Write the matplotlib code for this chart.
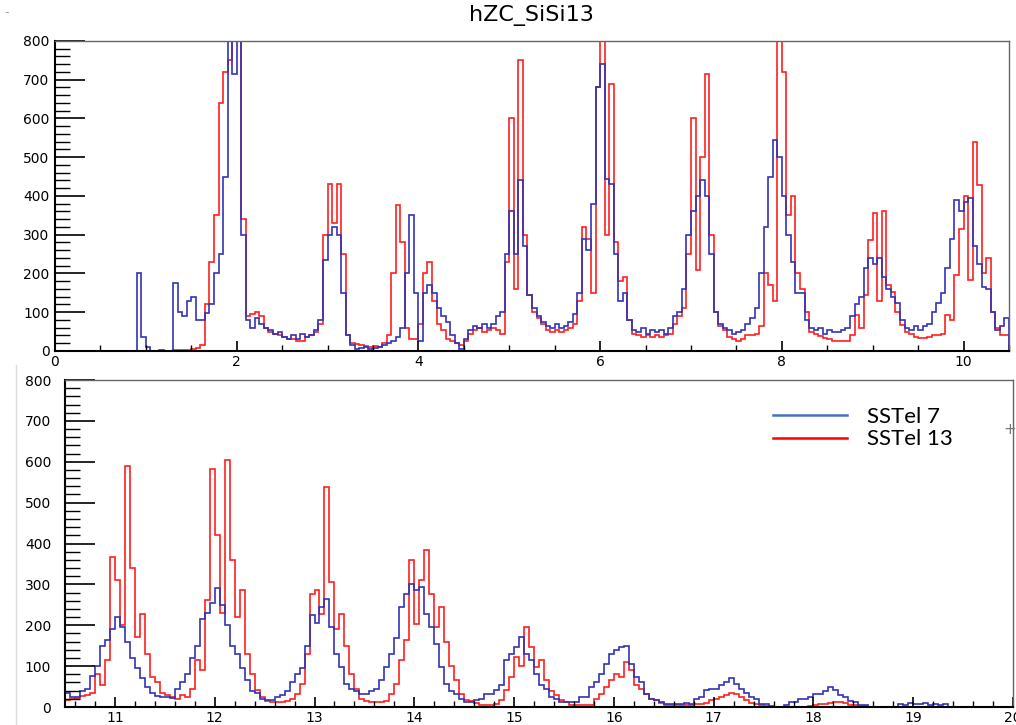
import numpy as np
import matplotlib
matplotlib.use('Agg')
from matplotlib import pyplot as plt
from matplotlib.lines import Line2D
from matplotlib.ticker import MultipleLocator

# bins are 0.05 wide, top panel starts at 0, bottom panel at 10.5
bin_w = 0.05
top_start = 0.0
top_end = 10.5
bot_start = 10.5
bot_end = 20.0

title = 'hZC_SiSi13'
labels = ['SSTel 7', 'SSTel 13']

# top panel, one row = 0.5 units
top_blue = [
    0, 0, 0, 0, 0, 0, 0, 0, 0, 0,
    0, 0, 0, 0, 0, 0, 0, 0, 200, 35,
    10, 0, 0, 3, 0, 0, 176, 100, 90, 130,
    140, 80, 80, 97, 120, 200, 250, 450, 1000, 715,
    1000, 300, 80, 60, 85, 70, 60, 55, 45, 50,
    35, 30, 40, 30, 45, 35, 40, 55, 80, 235,
    300, 320, 300, 150, 40, 15, 5, 8, 10, 5,
    8, 10, 15, 20, 25, 35, 60, 200, 350, 150,
    25, 150, 170, 150, 110, 90, 75, 40, 20, 5,
    30, 55, 65, 60, 70, 60, 70, 90, 100, 250,
    360, 250, 440, 270, 145, 110, 90, 75, 65, 60,
    70, 60, 65, 75, 95, 150, 290, 260, 380, 680,
    740, 445, 430, 250, 130, 150, 80, 55, 50, 60,
    45, 55, 50, 55, 45, 60, 90, 100, 160, 300,
    360, 400, 440, 400, 250, 100, 70, 60, 55, 45,
    50, 55, 70, 85, 110, 200, 320, 450, 545, 500,
    400, 300, 230, 150, 150, 80, 60, 55, 60, 45,
    55, 50, 50, 55, 58, 90, 120, 140, 215, 240,
    225, 240, 190, 160, 140, 125, 80, 60, 55, 65,
    55, 65, 70, 100, 125, 150, 213, 290, 390, 360,
    385, 394, 270, 225, 165, 160, 100, 55, 65, 85,
]
top_red = [
    0, 0, 0, 0, 0, 0, 0, 0, 0, 0,
    0, 0, 0, 0, 0, 0, 0, 0, 0, 0,
    0, 0, 0, 0, 0, 0, 2, 2, 3, 3,
    5, 8, 15, 120, 230, 350, 640, 720, 750, 1000,
    1000, 340, 90, 95, 100, 90, 60, 50, 45, 40,
    35, 30, 30, 25, 25, 35, 40, 50, 70, 300,
    430, 330, 430, 250, 40, 20, 18, 15, 12, 10,
    12, 10, 20, 40, 200, 377, 280, 60, 30, 30,
    70, 200, 230, 130, 70, 55, 30, 25, 20, 15,
    25, 45, 55, 60, 50, 55, 60, 55, 45, 230,
    600, 160, 750, 300, 145, 100, 85, 70, 55, 50,
    55, 50, 55, 60, 70, 130, 320, 290, 150, 680,
    810, 300, 690, 280, 180, 190, 80, 45, 40, 35,
    40, 35, 40, 35, 40, 45, 70, 90, 110, 250,
    600, 210, 500, 715, 300, 100, 65, 55, 35, 30,
    25, 30, 40, 40, 45, 65, 200, 170, 130, 810,
    720, 350, 400, 200, 160, 100, 50, 45, 38, 33,
    30, 25, 25, 25, 25, 40, 93, 60, 145, 286,
    355, 130, 360, 170, 153, 100, 67, 50, 45, 37,
    33, 33, 35, 40, 41, 45, 93, 80, 196, 316,
    400, 183, 540, 428, 200, 240, 100, 58, 41, 40,
]

# bottom panel
bot_blue = [
    35, 25, 25, 40, 45, 75, 100, 150, 165, 190,
    220, 196, 160, 120, 95, 70, 50, 35, 28, 25,
    25, 22, 45, 60, 80, 120, 150, 215, 230, 255,
    290, 250, 200, 150, 130, 95, 65, 40, 35, 20,
    16, 16, 25, 30, 40, 60, 80, 95, 150, 225,
    205, 245, 265, 196, 130, 98, 57, 45, 38, 33,
    33, 40, 45, 65, 98, 130, 170, 245, 277, 302,
    286, 294, 228, 196, 155, 98, 57, 40, 33, 20,
    12, 12, 16, 20, 33, 33, 41, 55, 114, 130,
    147, 171, 130, 114, 82, 55, 45, 25, 20, 12,
    12, 12, 12, 25, 25, 49, 60, 80, 106, 130,
    139, 147, 150, 106, 73, 60, 33, 20, 16, 12,
    8, 8, 8, 8, 10, 8, 20, 25, 41, 45,
    45, 53, 60, 70, 57, 45, 35, 25, 20, 8,
    8, 3, 0, 0, 5, 12, 12, 20, 20, 25,
    33, 33, 40, 48, 41, 30, 25, 15, 12, 5,
    4, 0, 0, 0, 0, 0, 0, 8, 5, 10,
    8, 8, 10, 6, 8, 5, 8, 0, 0, 0,
    0, 0, 0, 0, 0, 0, 0, 0, 0, 0,
]
bot_red = [
    18, 20, 22, 28, 30, 35, 80, 55, 115, 367,
    310, 200, 590, 340, 171, 228, 130, 73, 60, 35,
    30, 25, 20, 30, 25, 45, 114, 90, 261, 583,
    420, 230, 604, 359, 220, 286, 130, 82, 41, 25,
    15, 12, 12, 12, 15, 20, 33, 57, 130, 277,
    286, 228, 539, 306, 190, 228, 150, 80, 45, 20,
    14, 12, 12, 12, 15, 33, 57, 114, 163, 359,
    204, 310, 383, 277, 196, 245, 160, 100, 65, 33,
    16, 14, 10, 5, 4, 4, 8, 16, 41, 73,
    122, 100, 196, 147, 98, 114, 65, 40, 30, 16,
    12, 4, 4, 4, 4, 5, 20, 33, 50, 65,
    82, 73, 110, 90, 55, 45, 33, 20, 16, 10,
    4, 4, 4, 4, 4, 5, 8, 8, 10, 16,
    20, 25, 30, 35, 33, 25, 16, 10, 8, 4,
    2, 0, 0, 0, 0, 0, 0, 0, 0, 2,
    5, 8, 8, 10, 12, 12, 10, 6, 4, 3,
    2, 0, 0, 0, 0, 0, 0, 0, 0, 0,
    0, 0, 0, 0, 0, 0, 0, 0, 0, 0,
    0, 0, 0, 0, 0, 0, 0, 0, 0, 0,
]

blue_c = '#3232b8'
red_c = '#ff1f1f'

plt.rcParams['font.family'] = ['DejaVu Sans']

fig = plt.figure(figsize=(10.16, 7.25), dpi=100)
ax1 = fig.add_axes([0.0541, 0.5159, 0.9390, 0.4276])
ax2 = fig.add_axes([0.0640, 0.0248, 0.9331, 0.4510])


def panel(ax, start, end, blue, red, major, minor, ypad):
    edges = start + bin_w * np.arange(len(blue) + 1)
    ax.stairs(red, edges, color=red_c, lw=1.2)
    ax.stairs(blue, edges, color=blue_c, lw=1.2)
    ax.set_xlim(start, end)
    ax.set_ylim(0, 800)
    ax.xaxis.set_major_locator(MultipleLocator(major))
    ax.xaxis.set_minor_locator(MultipleLocator(minor))
    ax.yaxis.set_major_locator(MultipleLocator(100))
    ax.yaxis.set_minor_locator(MultipleLocator(20))
    ax.tick_params(axis='y', which='major', direction='in', length=21.6,
                   width=1.2, labelsize=10, pad=ypad)
    ax.tick_params(axis='y', which='minor', direction='in', length=10.8, width=1.0)
    ax.tick_params(axis='x', which='major', direction='in', length=7, width=1.2,
                   labelsize=10, pad=3)
    ax.tick_params(axis='x', which='minor', direction='in', length=4.5, width=1.0)
    for s in ['left', 'bottom']:
        ax.spines[s].set_linewidth(1.5)
    for s in ['top', 'right']:
        ax.spines[s].set_color('#666666')
        ax.spines[s].set_linewidth(1.0)


panel(ax1, top_start, top_end, top_blue, top_red, 2, 0.5, 4)
panel(ax2, bot_start, bot_end, bot_blue, bot_red, 1, 0.2, 10)

fig.text(0.523, 0.979, title, ha='center', va='center', fontsize=16)

handles = [Line2D([], [], color='#4472c4', lw=1.8),
           Line2D([], [], color='#ff0000', lw=1.8)]
ax2.legend(handles, labels, loc='upper left', bbox_to_anchor=(0.747, 0.917),
           frameon=False, borderpad=0, borderaxespad=0, handlelength=3.3,
           handletextpad=0.9, labelspacing=0.1,
           prop={'family': ['Lato', 'DejaVu Sans'], 'size': 16})

# bits of the pasted screenshots
fig.add_artist(Line2D([0.0157, 0.0157], [0.0, 0.497], color='#dddddd', lw=1.0))
fig.text(0.994, 0.407, '+', ha='center', va='center', fontsize=11, color='#777777')
fig.text(0.007, 0.983, '-', ha='center', va='center', fontsize=9, color='#999999')

fig.savefig('out.png', dpi=100)
